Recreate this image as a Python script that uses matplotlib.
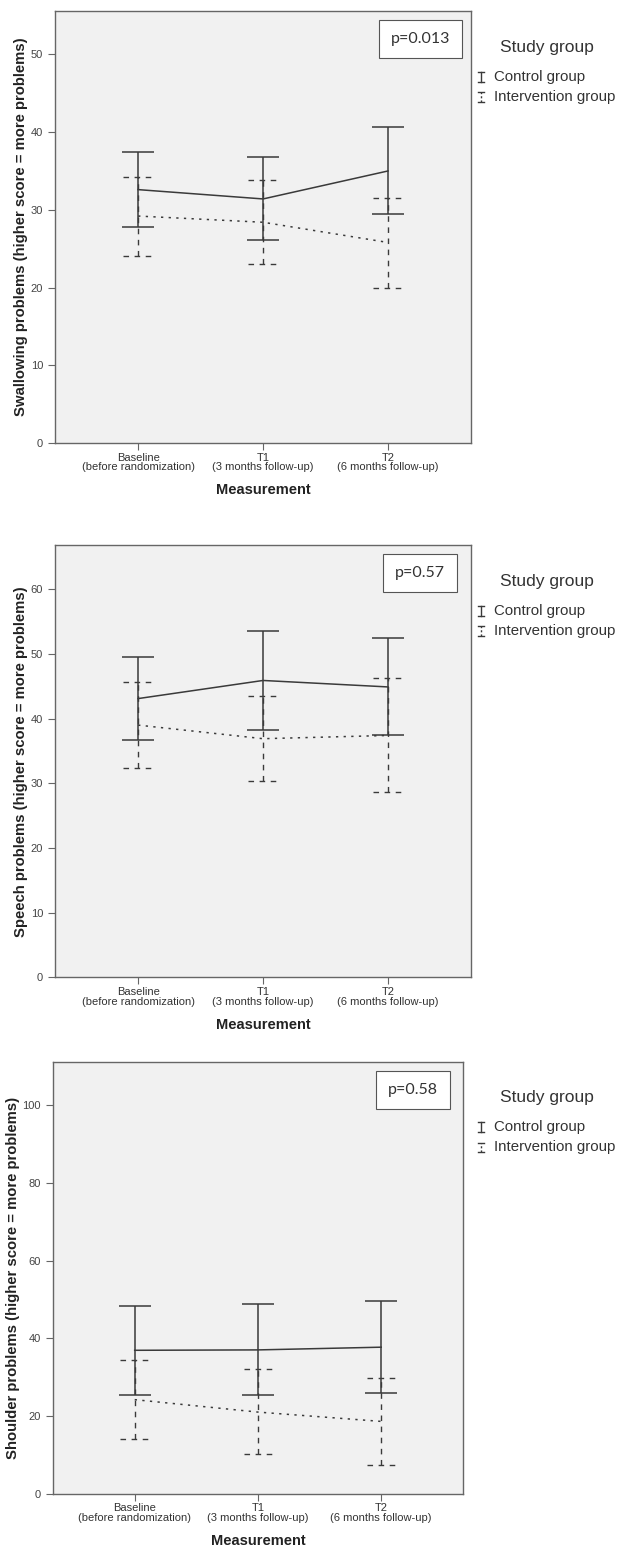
import numpy as np
import matplotlib
matplotlib.use("Agg")
import matplotlib.pyplot as plt
from matplotlib.lines import Line2D

plt.rcParams['font.family'] = ['Liberation Sans', 'DejaVu Sans']

categories = ['Baseline\n(before randomization)', 'T1\n(3 months follow-up)', 'T2\n(6 months follow-up)']
groups = ['Control group', 'Intervention group']

# swallowing
swal_ctrl_mean = [32.6, 31.4, 35.0]
swal_ctrl_low = [27.8, 26.1, 29.4]
swal_ctrl_high = [37.5, 36.8, 40.6]
swal_int_mean = [29.2, 28.4, 25.8]
swal_int_low = [24.1, 23.0, 20.0]
swal_int_high = [34.2, 33.8, 31.5]

# speech
sp_ctrl_mean = [43.1, 45.9, 44.9]
sp_ctrl_low = [36.7, 38.3, 37.4]
sp_ctrl_high = [49.5, 53.5, 52.5]
sp_int_mean = [39.0, 36.9, 37.4]
sp_int_low = [32.3, 30.4, 28.6]
sp_int_high = [45.6, 43.5, 46.3]

# shoulder
sh_ctrl_mean = [36.9, 37.0, 37.7]
sh_ctrl_low = [25.5, 25.3, 25.8]
sh_ctrl_high = [48.3, 48.8, 49.6]
sh_int_mean = [24.2, 21.0, 18.6]
sh_int_low = [14.1, 10.3, 7.4]
sh_int_high = [34.3, 32.0, 29.8]

panels = [
    dict(ylabel='Swallowing problems (higher score = more problems)', p='p=0.013',
         ctrl=(swal_ctrl_mean, swal_ctrl_low, swal_ctrl_high),
         intv=(swal_int_mean, swal_int_low, swal_int_high),
         yticks=[0, 10, 20, 30, 40, 50], ymax=55.6,
         rect=[0.0886, 0.714, 0.670, 0.279]),
    dict(ylabel='Speech problems (higher score = more problems)', p='p=0.57',
         ctrl=(sp_ctrl_mean, sp_ctrl_low, sp_ctrl_high),
         intv=(sp_int_mean, sp_int_low, sp_int_high),
         yticks=[0, 10, 20, 30, 40, 50, 60], ymax=66.8,
         rect=[0.0886, 0.369, 0.670, 0.279]),
    dict(ylabel='Shoulder problems (higher score = more problems)', p='p=0.58',
         ctrl=(sh_ctrl_mean, sh_ctrl_low, sh_ctrl_high),
         intv=(sh_int_mean, sh_int_low, sh_int_high),
         yticks=[0, 20, 40, 60, 80, 100], ymax=111.2,
         rect=[0.0849, 0.0357, 0.661, 0.279]),
]

line_col = '#3a3a3a'
frame_col = '#666666'
x = np.arange(len(categories))
cap = 0.13

fig = plt.figure(figsize=(6.21, 15.49), dpi=100)

for pan in panels:
    ax = fig.add_axes(pan['rect'])
    ax.set_facecolor('#f1f1f1')
    # control group: solid
    m, lo, hi = pan['ctrl']
    ax.plot(x, m, color=line_col, lw=1.1, ls='-')
    ax.vlines(x, lo, hi, color=line_col, lw=1.1)
    ax.hlines(lo, x - cap, x + cap, color=line_col, lw=1.1)
    ax.hlines(hi, x - cap, x + cap, color=line_col, lw=1.1)
    # intervention group: dotted mean line, dashed bars
    m, lo, hi = pan['intv']
    ax.plot(x, m, color=line_col, lw=1.1, ls=(0, (1.5, 3.5)))
    ax.vlines(x, lo, hi, color=line_col, lw=1.0, ls=(0, (4, 4)))
    ax.hlines(lo, x - cap * 0.9, x + cap * 0.9, color=line_col, lw=1.0, ls=(0, (4, 4)))
    ax.hlines(hi, x - cap * 0.9, x + cap * 0.9, color=line_col, lw=1.0, ls=(0, (4, 4)))

    ax.set_xlim(-0.665, 2.665)
    ax.set_ylim(0, pan['ymax'])
    ax.set_yticks(pan['yticks'])
    ax.set_xticks(x)
    ax.set_xticklabels(categories, fontsize=8, color='#333333', linespacing=0.95)
    ax.tick_params(axis='y', labelsize=8, labelcolor='#444444', length=5, color=frame_col)
    ax.tick_params(axis='x', length=5, color=frame_col, pad=2)
    for s in ax.spines.values():
        s.set_color(frame_col)
        s.set_linewidth(1.0)
    ax.set_xlabel('Measurement', fontsize=10.5, fontweight='bold', color='#222222', labelpad=8)
    ax.set_ylabel(pan['ylabel'], fontsize=10.7, fontweight='bold', color='#222222', labelpad=2)
    ax.text(0.878, 0.935, pan['p'], transform=ax.transAxes, ha='center', va='center',
            fontsize=11.5, family='Lato', color='#333333',
            bbox=dict(boxstyle='square,pad=0.75', fc='white', ec='#555555', lw=0.8))

    # legend beside the axes
    r = pan['rect']
    top = r[1] + r[3]
    fig.text(0.805, top - 0.0235, 'Study group', fontsize=12.5, color='#333333', va='center')
    yy = [top - 0.0425, top - 0.0555]
    styles = ['-', (0, (1.5, 1.5))]
    for yv, st, name in zip(yy, styles, groups):
        gx = 0.775
        fig.add_artist(Line2D([gx, gx], [yv - 0.0032, yv + 0.0032], color=line_col, lw=1.0, ls=st))
        fig.add_artist(Line2D([gx - 0.0045, gx + 0.0045], [yv + 0.0032, yv + 0.0032], color=line_col, lw=1.0))
        fig.add_artist(Line2D([gx - 0.0045, gx + 0.0045], [yv - 0.0032, yv - 0.0032], color=line_col, lw=1.0))
        fig.text(0.796, yv, name, fontsize=10.8, color='#333333', va='center')

fig.savefig('out.png', dpi=100)
